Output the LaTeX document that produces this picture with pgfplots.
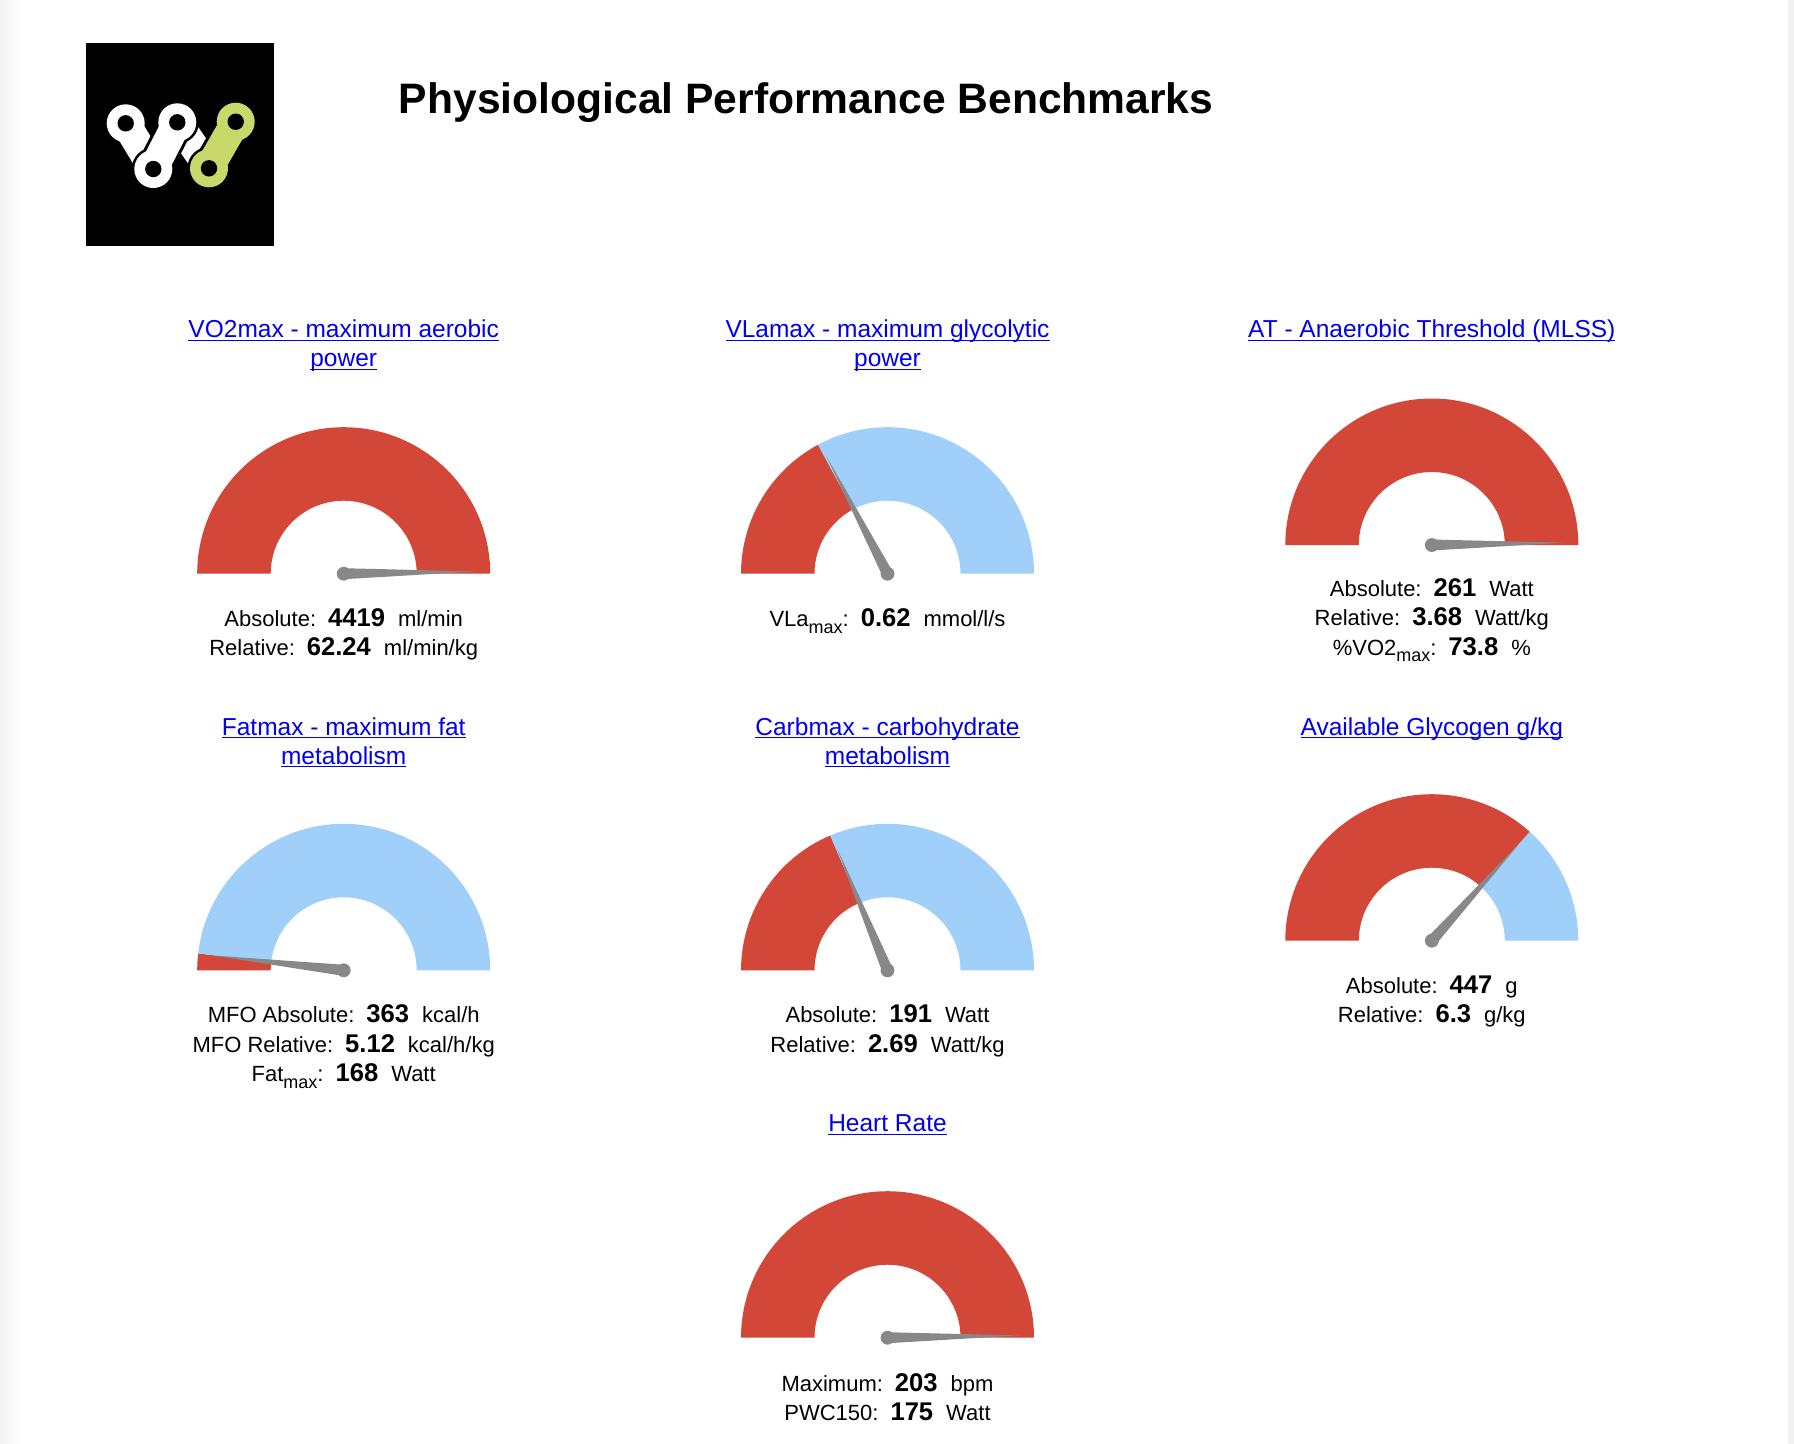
\documentclass[border=0pt]{standalone}
\usepackage{pgfplots}
\pgfplotsset{compat=1.18}
\usepackage{fontspec}
\setmainfont{Liberation Sans}
\definecolor{gred}{RGB}{211,71,56}
\definecolor{gblue}{RGB}{160,207,249}
\definecolor{needle}{RGB}{136,136,136}
\definecolor{linkblue}{RGB}{0,0,238}
\definecolor{logogreen}{RGB}{201,216,107}
% 1 px = 0.5pt
\newcommand{\band}[5]{\fill[#5] (axis cs:#1,#2) ++(#3:73.25pt) arc[start angle=#3, end angle=#4, radius=73.25pt] -- ++({#4+180}:36.75pt) arc[start angle=#4, end angle=#3, radius=36.5pt] -- cycle;}
\newcommand{\hub}[2]{\addplot[only marks, mark=*, mark size=3.25pt, color=needle] coordinates {(#1,#2)};}
\newcommand{\ttl}[1]{\setbox0\hbox{#1}\rlap{\rule[-1.6pt]{\wd0}{0.65pt}}\box0}
\newcommand{\titlefont}{\fontsize{12.25pt}{14pt}\selectfont}
\newcommand{\labfont}{\fontsize{11pt}{12pt}\selectfont}
\newcommand{\lab}[3]{#1:\hspace{6pt}{\fontsize{12.8pt}{12pt}\selectfont\bfseries #2}\hspace{6.5pt}#3}
\newcommand{\sub}[1]{\raisebox{-3.4pt}{\fontsize{9pt}{9pt}\selectfont #1}}
\newcommand{\chainlink}[5]{%
 \draw[black, line width=17.5pt] (axis cs:#1,#2) -- (axis cs:#3,#4);
 \fill[black] (axis cs:#1,#2) circle (10.8pt); \fill[black] (axis cs:#3,#4) circle (10.8pt);
 \draw[#5, line width=14.5pt] (axis cs:#1,#2) -- (axis cs:#3,#4);
 \fill[#5] (axis cs:#1,#2) circle (9.5pt); \fill[#5] (axis cs:#3,#4) circle (9.5pt);}
\newcommand{\hole}[2]{\fill[black] (axis cs:#1,#2) circle (4.1pt);}
\begin{document}
\begin{tikzpicture}
\begin{axis}[x=0.5pt, y=0.5pt, y dir=reverse, xmin=0, xmax=1794, ymin=0, ymax=1444,
  hide axis, clip=false, enlargelimits=false, anchor=north west, at={(0,0)}]
% background
\fill[white] (axis cs:0,0) rectangle (axis cs:1794,1444);
\fill[left color=black!5, right color=white] (axis cs:0,0) rectangle (axis cs:22,1444);
\fill[black!6] (axis cs:1788,0) rectangle (axis cs:1794,1444);
% logo
\fill[black] (axis cs:86,43) rectangle (axis cs:274,246);
\chainlink{125.7}{123.3}{153.3}{169}{white}
\chainlink{177.3}{122.3}{209}{168.3}{white}
\chainlink{153.3}{169}{177.3}{122.3}{white}
\chainlink{209}{168.3}{235.7}{121.7}{logogreen}
\hole{125.7}{123.3}\hole{153.3}{169}\hole{177.3}{122.3}\hole{209}{168.3}\hole{235.7}{121.7}
% main title
\node[anchor=base west, inner sep=0, font=\fontsize{21.3pt}{22pt}\selectfont\bfseries] at (axis cs:398.5,113.3) {Physiological Performance Benchmarks};

% ---------- Gauge 1: VO2max ----------
\node[anchor=base, inner sep=0, text=linkblue, font=\titlefont] at (axis cs:343.7,337.7) {\ttl{VO2max - maximum aerobic}};
\node[anchor=base, inner sep=0, text=linkblue, font=\titlefont] at (axis cs:343.7,366.7) {\ttl{power}};
\band{343.7}{573.7}{180}{0}{gred}
\addplot[fill=needle, draw=none] coordinates {(343.8,579.2) (475.7,571.4) (343.6,568.2)};
\hub{343.7}{573.7}
\node[anchor=base, inner sep=0, font=\labfont] at (axis cs:343.7,626.7) {\lab{Absolute}{4419}{ml/min}};
\node[anchor=base, inner sep=0, font=\labfont] at (axis cs:343.7,655.5) {\lab{Relative}{62.24}{ml/min/kg}};

% ---------- Gauge 2: VLamax ----------
\node[anchor=base, inner sep=0, text=linkblue, font=\titlefont] at (axis cs:887.5,337.7) {\ttl{VLamax - maximum glycolytic}};
\node[anchor=base, inner sep=0, text=linkblue, font=\titlefont] at (axis cs:887.5,366.7) {\ttl{power}};
\band{887.5}{573.7}{180}{118.3}{gred}
\band{887.5}{573.7}{118.3}{0}{gblue}
\addplot[fill=needle, draw=none] coordinates {(892.4,571.2) (826.6,456.6) (882.6,576.2)};
\hub{887.5}{573.7}
\node[anchor=base, inner sep=0, font=\labfont] at (axis cs:887.5,626.7) {\lab{VLa\sub{max}}{0.62}{mmol/l/s}};

% ---------- Gauge 3: AT ----------
\node[anchor=base, inner sep=0, text=linkblue, font=\titlefont] at (axis cs:1431.8,337.7) {\ttl{AT - Anaerobic Threshold (MLSS)}};
\band{1431.8}{545}{180}{0}{gred}
\addplot[fill=needle, draw=none] coordinates {(1431.9,550.5) (1563.8,542.7) (1431.7,539.5)};
\hub{1431.8}{545}
\node[anchor=base, inner sep=0, font=\labfont] at (axis cs:1431.8,596.7) {\lab{Absolute}{261}{Watt}};
\node[anchor=base, inner sep=0, font=\labfont] at (axis cs:1431.8,625.7) {\lab{Relative}{3.68}{Watt/kg}};
\node[anchor=base, inner sep=0, font=\labfont] at (axis cs:1431.8,655) {\lab{\%VO2\sub{max}}{73.8}{\%}};

% ---------- Gauge 4: Fatmax ----------
\node[anchor=base, inner sep=0, text=linkblue, font=\titlefont] at (axis cs:343.7,735) {\ttl{Fatmax - maximum fat}};
\node[anchor=base, inner sep=0, text=linkblue, font=\titlefont] at (axis cs:343.7,764) {\ttl{metabolism}};
\band{343.7}{970.3}{180}{173.4}{gred}
\band{343.7}{970.3}{173.4}{0}{gblue}
\addplot[fill=needle, draw=none] coordinates {(344.3,964.8) (212.5,955.4) (343.1,975.8)};
\hub{343.7}{970.3}
\node[anchor=base, inner sep=0, font=\labfont] at (axis cs:343.7,1022.3) {\lab{MFO Absolute}{363}{kcal/h}};
\node[anchor=base, inner sep=0, font=\labfont] at (axis cs:343.7,1052.3) {\lab{MFO Relative}{5.12}{kcal/h/kg}};
\node[anchor=base, inner sep=0, font=\labfont] at (axis cs:343.7,1081.7) {\lab{Fat\sub{max}}{168}{Watt}};

% ---------- Gauge 5: Carbmax ----------
\node[anchor=base, inner sep=0, text=linkblue, font=\titlefont] at (axis cs:887.5,735) {\ttl{Carbmax - carbohydrate}};
\node[anchor=base, inner sep=0, text=linkblue, font=\titlefont] at (axis cs:887.5,764) {\ttl{metabolism}};
\band{887.5}{970.3}{180}{113}{gred}
\band{887.5}{970.3}{113}{0}{gblue}
\addplot[fill=needle, draw=none] coordinates {(892.6,968.2) (837.0,848.3) (882.4,972.4)};
\hub{887.5}{970.3}
\node[anchor=base, inner sep=0, font=\labfont] at (axis cs:887.5,1022.3) {\lab{Absolute}{191}{Watt}};
\node[anchor=base, inner sep=0, font=\labfont] at (axis cs:887.5,1052.3) {\lab{Relative}{2.69}{Watt/kg}};

% ---------- Gauge 6: Glycogen ----------
\node[anchor=base, inner sep=0, text=linkblue, font=\titlefont] at (axis cs:1431.8,735) {\ttl{Available Glycogen g/kg}};
\band{1431.8}{940.7}{180}{48}{gred}
\band{1431.8}{940.7}{48}{0}{gblue}
\addplot[fill=needle, draw=none] coordinates {(1435.9,944.4) (1520.1,842.6) (1427.7,937.0)};
\hub{1431.8}{940.7}
\node[anchor=base, inner sep=0, font=\labfont] at (axis cs:1431.8,993.3) {\lab{Absolute}{447}{g}};
\node[anchor=base, inner sep=0, font=\labfont] at (axis cs:1431.8,1022.3) {\lab{Relative}{6.3}{g/kg}};

% ---------- Gauge 7: Heart Rate ----------
\node[anchor=base, inner sep=0, text=linkblue, font=\titlefont] at (axis cs:887.5,1131.7) {\ttl{Heart Rate}};
\band{887.5}{1337.7}{180}{0}{gred}
\addplot[fill=needle, draw=none] coordinates {(887.6,1343.2) (1019.5,1335.4) (887.4,1332.2)};
\hub{887.5}{1337.7}
\node[anchor=base, inner sep=0, font=\labfont] at (axis cs:887.5,1391) {\lab{Maximum}{203}{bpm}};
\node[anchor=base, inner sep=0, font=\labfont] at (axis cs:887.5,1420) {\lab{PWC150}{175}{Watt}};
\end{axis}
\end{tikzpicture}
\end{document}
